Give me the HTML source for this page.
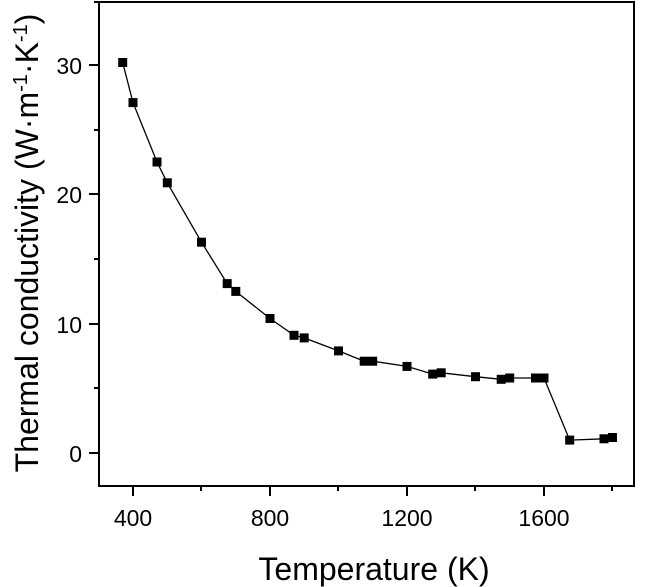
<!DOCTYPE html><html><head><style>body{margin:0;background:#fff}svg{display:block}text{font-family:"Liberation Sans",Arial,sans-serif;fill:#000}</style></head><body>
<svg width="649" height="587" viewBox="0 0 649 587" xmlns="http://www.w3.org/2000/svg">
<rect x="99" y="2" width="535" height="484" fill="none" stroke="#000" stroke-width="2"/>
<g stroke="#000" stroke-width="2">
<line x1="133" y1="486" x2="133" y2="496"/><line x1="270" y1="486" x2="270" y2="496"/><line x1="407" y1="486" x2="407" y2="496"/><line x1="544" y1="486" x2="544" y2="496"/>
<line x1="201" y1="486" x2="201" y2="491"/><line x1="338" y1="486" x2="338" y2="491"/><line x1="475" y1="486" x2="475" y2="491"/><line x1="612" y1="486" x2="612" y2="491"/>
<line x1="89" y1="453" x2="99" y2="453"/><line x1="89" y1="324" x2="99" y2="324"/><line x1="89" y1="194" x2="99" y2="194"/><line x1="89" y1="65" x2="99" y2="65"/>
<line x1="94" y1="388" x2="99" y2="388"/><line x1="94" y1="259" x2="99" y2="259"/><line x1="94" y1="130" x2="99" y2="130"/><line x1="94" y1="2" x2="99" y2="2"/>
</g>
<g font-size="23" text-anchor="middle">
<text x="133" y="526">400</text><text x="270" y="526">800</text><text x="407" y="526">1200</text><text x="544" y="526">1600</text>
<text x="374" y="580" font-size="32">Temperature (K)</text>
</g>
<g font-size="23" text-anchor="end">
<text x="82" y="462">0</text><text x="82" y="333">10</text><text x="82" y="203">20</text><text x="82" y="74">30</text>
</g>
<text transform="translate(38,243) rotate(-90)" font-size="32" text-anchor="middle">Thermal conductivity (W·m<tspan dy="-11" font-size="20">-1</tspan><tspan dy="11">·K</tspan><tspan dy="-11" font-size="20">-1</tspan><tspan dy="11">)</tspan></text>
<polyline fill="none" stroke="#000" stroke-width="1.3" points="122.7,62.5 133,102.6 157,162 167.3,182.8 201.5,242.2 227.2,283.6 235.8,291.4 270,318.5 294,335.3 304.2,337.9 338.5,350.9 364.2,361.2 372.7,361.2 407,366.4 432.7,374.1 441.2,372.8 475.5,376.7 501.2,379.3 509.7,378 535.5,378 544,378 569.7,440.1 604,438.8 612.5,437.5"/>
<g fill="#000">
<rect x="118.2" y="58" width="9" height="9"/><rect x="128.5" y="98.1" width="9" height="9"/><rect x="152.5" y="157.5" width="9" height="9"/><rect x="162.8" y="178.3" width="9" height="9"/><rect x="197" y="237.7" width="9" height="9"/><rect x="222.7" y="279.1" width="9" height="9"/><rect x="231.3" y="286.9" width="9" height="9"/><rect x="265.5" y="314" width="9" height="9"/><rect x="289.5" y="330.8" width="9" height="9"/><rect x="299.7" y="333.4" width="9" height="9"/><rect x="334" y="346.4" width="9" height="9"/><rect x="359.7" y="356.7" width="9" height="9"/><rect x="368.2" y="356.7" width="9" height="9"/><rect x="402.5" y="361.9" width="9" height="9"/><rect x="428.2" y="369.6" width="9" height="9"/><rect x="436.7" y="368.3" width="9" height="9"/><rect x="471" y="372.2" width="9" height="9"/><rect x="496.7" y="374.8" width="9" height="9"/><rect x="505.2" y="373.5" width="9" height="9"/><rect x="531" y="373.5" width="9" height="9"/><rect x="539.5" y="373.5" width="9" height="9"/><rect x="565.2" y="435.6" width="9" height="9"/><rect x="599.5" y="434.3" width="9" height="9"/><rect x="608" y="433" width="9" height="9"/>
</g>
</svg></body></html>
